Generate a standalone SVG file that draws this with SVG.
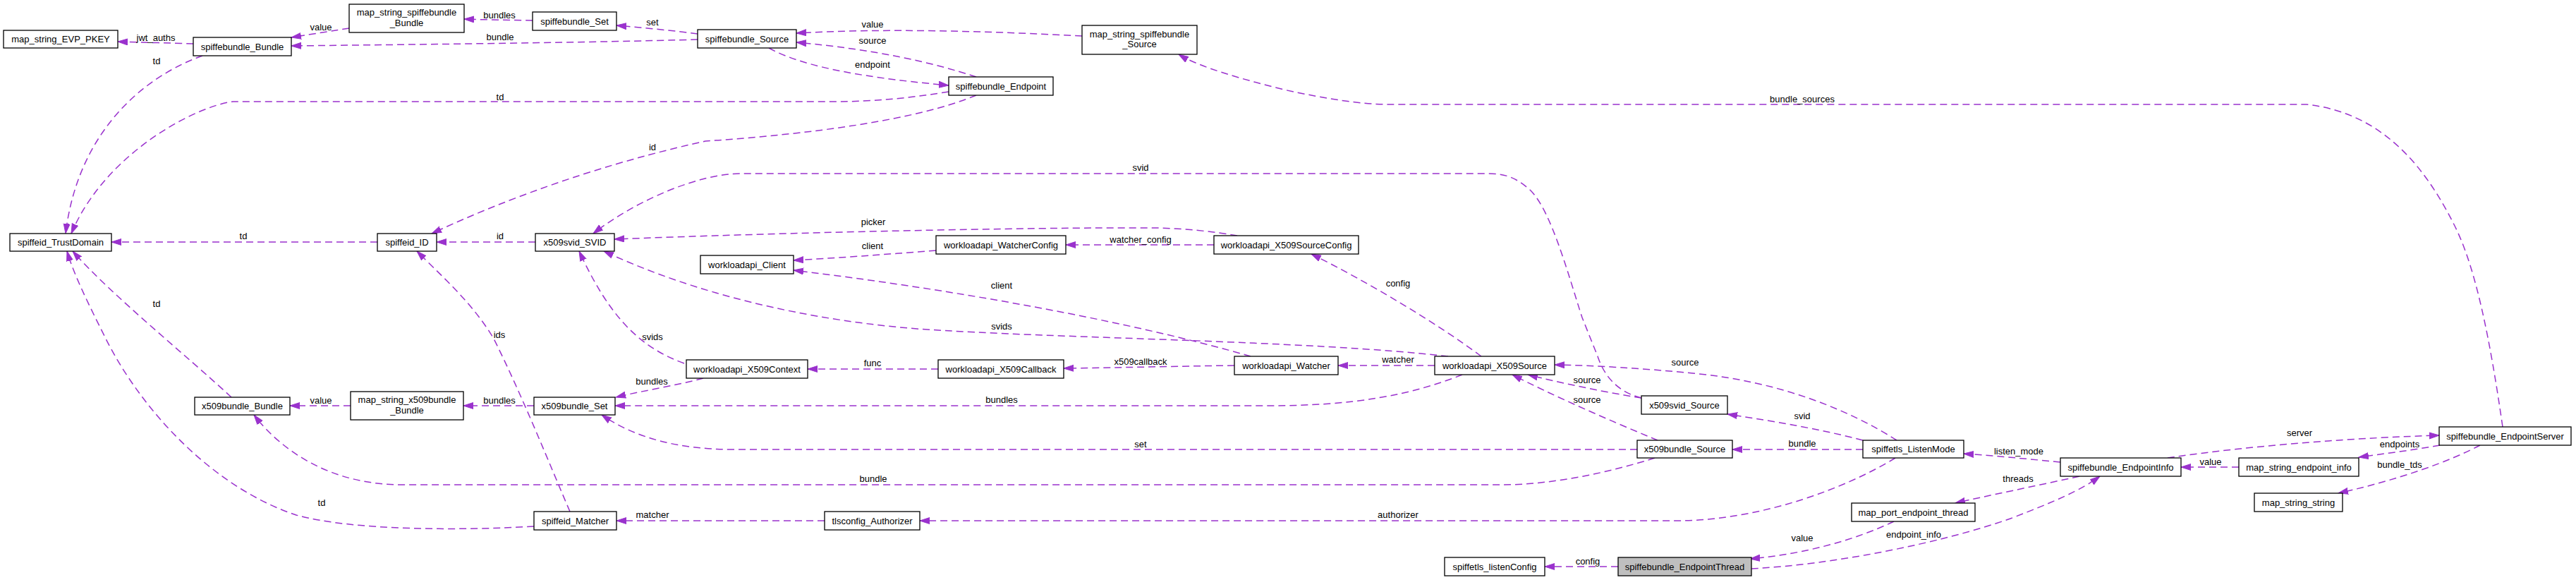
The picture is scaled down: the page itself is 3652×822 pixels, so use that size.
<svg xmlns="http://www.w3.org/2000/svg" width="3652" height="822" viewBox="0 0 3652 822">
<style>
.n rect{fill:#fff;stroke:#000;stroke-width:1.3}
.n.cur rect{fill:#bfbfbf}
text{font-family:"Liberation Sans",Arial,Helvetica,sans-serif;font-size:13px;fill:#000;text-anchor:middle}
.e path{fill:none;stroke:#9a32cd;stroke-width:1.5;stroke-dasharray:10,6;marker-end:url(#a)}
</style>
<defs>
<marker id="a" markerWidth="15" markerHeight="11" refX="14" refY="5" orient="auto" markerUnits="userSpaceOnUse">
<path d="M0,0.5 L14,5 L0,9.5 z" fill="#9a32cd" stroke="#9a32cd" stroke-width="1"/>
</marker>
</defs>
<rect width="3652" height="822" fill="#fff"/>
<g id="connectors" class="e">
<path d="M274,62 C240,61 200,60 167,59"/>
<path d="M495,40 C475,43 445,48 413,53"/>
<path d="M989,56 C850,60 600,63 413,65"/>
<path d="M755,29 C725,28.5 690,28 658,27"/>
<path d="M989,48 C960,44 910,39 874,36"/>
<path d="M1534,51 C1400,44 1250,40 1129,47"/>
<path d="M1384,109 C1320,88 1240,70 1129,60"/>
<path d="M1090,68 C1130,90 1200,108 1345,121"/>
<path d="M1345,130 C1290,139 1240,144 1180,144 L330,144 C280,150 150,215 101,331"/>
<path d="M287,79 C200,110 110,190 93,331"/>
<path d="M1384,135 C1300,170 1150,190 1000,200 C900,222 760,262 612,331"/>
<path d="M535,343 L158,343"/>
<path d="M759,343 L619,343"/>
<path d="M2327,564 C2295,556 2275,535 2265,505 L2243,450 C2225,395 2200,300 2170,270 C2150,252 2135,246 2110,246 L1050,246 C990,246 900,285 841,331"/>
<path d="M1754,334 C1720,328 1680,324 1640,323 C1450,322 1100,330 871,339"/>
<path d="M1327,355 C1250,361 1180,366 1125,369"/>
<path d="M1721,347 L1511,347"/>
<path d="M1773,505 C1600,455 1350,410 1125,383"/>
<path d="M2100,505 C2040,460 1940,400 1859,360"/>
<path d="M2053,505 C1850,482 1500,480 1300,466 C1100,450 950,400 856,356"/>
<path d="M970,515 C900,490 860,440 821,356"/>
<path d="M2034,518 L1897,518"/>
<path d="M1750,518 C1670,519 1590,521 1508,522"/>
<path d="M1330,523 L1145,523"/>
<path d="M997,536 C960,546 910,554 873,563"/>
<path d="M2073,531 C2000,560 1920,575 1800,575 L872,575"/>
<path d="M2321,637 L1040,637 C960,637 900,620 853,588"/>
<path d="M2346,649 C2280,670 2200,687 2130,687 L570,687 C470,687 400,640 360,588"/>
<path d="M2350,624 C2280,595 2200,560 2144,531"/>
<path d="M2327,564 C2270,555 2210,542 2166,531"/>
<path d="M2689,624 C2620,580 2520,540 2400,529 C2330,522 2260,518 2204,517"/>
<path d="M2641,624 C2580,608 2520,598 2449,587"/>
<path d="M2641,637 L2456,637"/>
<path d="M2687,649 C2620,690 2500,737 2380,738 L1304,738"/>
<path d="M1169,738 L874,738"/>
<path d="M808,725 C780,660 740,560 700,480 C670,430 630,395 591,356"/>
<path d="M757,746 C650,752 500,752 420,730 C300,690 200,580 150,480 C125,430 105,390 95,356"/>
<path d="M328,563 C260,500 160,420 103,356"/>
<path d="M497,575 L411,575"/>
<path d="M757,575 L657,575"/>
<path d="M2921,655 C2870,650 2830,646 2784,643"/>
<path d="M2948,675 C2880,690 2820,702 2772,713"/>
<path d="M2685,739 C2630,765 2560,785 2481,792"/>
<path d="M2483,806 C2600,800 2750,770 2850,735 C2910,712 2950,695 2977,675"/>
<path d="M2294,803 L2190,803"/>
<path d="M3073,649 C3200,630 3350,620 3458,617"/>
<path d="M3459,631 C3420,638 3380,643 3344,648"/>
<path d="M3174,662 L3092,662"/>
<path d="M3516,631 C3470,655 3400,680 3315,699"/>
<path d="M3548,605 C3530,480 3510,380 3480,320 C3440,240 3380,160 3270,148 L1970,148 C1930,148 1880,140 1820,127 C1760,112 1700,95 1671,77"/>
</g>
<g id="edge-labels">
<text x="221" y="57.5">jwt_auths</text>
<text x="455" y="42.5">value</text>
<text x="709" y="56.5">bundle</text>
<text x="708" y="25.5">bundles</text>
<text x="925" y="35.5">set</text>
<text x="1237" y="38.5">value</text>
<text x="1237" y="61.5">source</text>
<text x="1237" y="95.5">endpoint</text>
<text x="709" y="141.5">td</text>
<text x="222" y="90.5">td</text>
<text x="925" y="212.5">id</text>
<text x="345" y="338.5">td</text>
<text x="709" y="338.5">id</text>
<text x="1617" y="241.5">svid</text>
<text x="1238" y="318.5">picker</text>
<text x="1237" y="352.5">client</text>
<text x="1617" y="343.5">watcher_config</text>
<text x="1420" y="408.5">client</text>
<text x="1982" y="405.5">config</text>
<text x="1420" y="466.5">svids</text>
<text x="925" y="481.5">svids</text>
<text x="1982" y="513.5">watcher</text>
<text x="1617" y="516.5">x509callback</text>
<text x="1237" y="518.5">func</text>
<text x="924" y="544.5">bundles</text>
<text x="1420" y="570.5">bundles</text>
<text x="1617" y="633.5">set</text>
<text x="1238" y="682.5">bundle</text>
<text x="2250" y="570.5">source</text>
<text x="2250" y="542.5">source</text>
<text x="2389" y="517.5">source</text>
<text x="2555" y="593.5">svid</text>
<text x="2555" y="632.5">bundle</text>
<text x="1982" y="733.5">authorizer</text>
<text x="925" y="733.5">matcher</text>
<text x="708" y="478.5">ids</text>
<text x="456" y="716.5">td</text>
<text x="222" y="434.5">td</text>
<text x="455" y="571.5">value</text>
<text x="708" y="571.5">bundles</text>
<text x="2862" y="643.5">listen_mode</text>
<text x="2861" y="682.5">threads</text>
<text x="2555" y="766.5">value</text>
<text x="2713" y="761.5">endpoint_info</text>
<text x="2251" y="799.5">config</text>
<text x="3260" y="617.5">server</text>
<text x="3402" y="633.5">endpoints</text>
<text x="3134" y="658.5">value</text>
<text x="3402" y="662.5">bundle_tds</text>
<text x="2555" y="144.5">bundle_sources</text>
</g>
<g id="n1" class="n"><rect x="5" y="43" width="162" height="25"/><text x="86" y="60">map_string_EVP_PKEY</text></g>
<g id="n2" class="n"><rect x="274" y="53" width="139" height="26"/><text x="343.5" y="70.5">spiffebundle_Bundle</text></g>
<g id="n3" class="n"><rect x="495" y="6" width="163" height="40"/><text x="576.5" y="22">map_string_spiffebundle</text><text x="576.5" y="37">_Bundle</text></g>
<g id="n4" class="n"><rect x="755" y="17" width="119" height="26"/><text x="814.5" y="34.5">spiffebundle_Set</text></g>
<g id="n5" class="n"><rect x="989" y="42" width="140" height="26"/><text x="1059" y="59.5">spiffebundle_Source</text></g>
<g id="n6" class="n"><rect x="1534" y="36" width="163" height="41"/><text x="1615.5" y="53">map_string_spiffebundle</text><text x="1615.5" y="67">_Source</text></g>
<g id="n7" class="n"><rect x="1345" y="109" width="148" height="26"/><text x="1419" y="126.5">spiffebundle_Endpoint</text></g>
<g id="n8" class="n"><rect x="14" y="331" width="144" height="25"/><text x="86" y="348">spiffeid_TrustDomain</text></g>
<g id="n9" class="n"><rect x="535" y="331" width="84" height="25"/><text x="577" y="348">spiffeid_ID</text></g>
<g id="n10" class="n"><rect x="759" y="331" width="112" height="25"/><text x="815" y="348">x509svid_SVID</text></g>
<g id="n11" class="n"><rect x="993" y="362" width="132" height="26"/><text x="1059" y="379.5">workloadapi_Client</text></g>
<g id="n12" class="n"><rect x="1327" y="334" width="184" height="26"/><text x="1419" y="351.5">workloadapi_WatcherConfig</text></g>
<g id="n13" class="n"><rect x="1721" y="334" width="205" height="26"/><text x="1823.5" y="351.5">workloadapi_X509SourceConfig</text></g>
<g id="n14" class="n"><rect x="973" y="510" width="172" height="26"/><text x="1059" y="527.5">workloadapi_X509Context</text></g>
<g id="n15" class="n"><rect x="1330" y="510" width="178" height="26"/><text x="1419" y="527.5">workloadapi_X509Callback</text></g>
<g id="n16" class="n"><rect x="1750" y="505" width="147" height="26"/><text x="1823.5" y="522.5">workloadapi_Watcher</text></g>
<g id="n17" class="n"><rect x="2034" y="505" width="170" height="26"/><text x="2119" y="522.5">workloadapi_X509Source</text></g>
<g id="n18" class="n"><rect x="276" y="563" width="135" height="25"/><text x="343.5" y="580">x509bundle_Bundle</text></g>
<g id="n19" class="n"><rect x="497" y="555" width="160" height="40"/><text x="577" y="571">map_string_x509bundle</text><text x="577" y="586">_Bundle</text></g>
<g id="n20" class="n"><rect x="757" y="563" width="115" height="25"/><text x="814.5" y="580">x509bundle_Set</text></g>
<g id="n21" class="n"><rect x="2327" y="561" width="122" height="26"/><text x="2388" y="578.5">x509svid_Source</text></g>
<g id="n22" class="n"><rect x="2321" y="624" width="135" height="25"/><text x="2388.5" y="641">x509bundle_Source</text></g>
<g id="n23" class="n"><rect x="2641" y="624" width="143" height="25"/><text x="2712.5" y="641">spiffetls_ListenMode</text></g>
<g id="n24" class="n"><rect x="2921" y="649" width="171" height="26"/><text x="3006.5" y="666.5">spiffebundle_EndpointInfo</text></g>
<g id="n25" class="n"><rect x="3174" y="649" width="170" height="26"/><text x="3259" y="666.5">map_string_endpoint_info</text></g>
<g id="n26" class="n"><rect x="3458" y="605" width="187" height="26"/><text x="3551.5" y="622.5">spiffebundle_EndpointServer</text></g>
<g id="n27" class="n"><rect x="3196" y="699" width="125" height="26"/><text x="3258.5" y="716.5">map_string_string</text></g>
<g id="n28" class="n"><rect x="2625" y="713" width="175" height="26"/><text x="2712.5" y="730.5">map_port_endpoint_thread</text></g>
<g id="n29" class="n"><rect x="757" y="725" width="117" height="26"/><text x="815.5" y="742.5">spiffeid_Matcher</text></g>
<g id="n30" class="n"><rect x="1169" y="725" width="135" height="26"/><text x="1236.5" y="742.5">tlsconfig_Authorizer</text></g>
<g id="n31" class="n"><rect x="2048" y="790" width="142" height="26"/><text x="2119" y="807.5">spiffetls_listenConfig</text></g>
<g id="n32" class="n cur"><rect x="2294" y="790" width="189" height="26"/><text x="2388.5" y="807.5">spiffebundle_EndpointThread</text></g>
</svg>
